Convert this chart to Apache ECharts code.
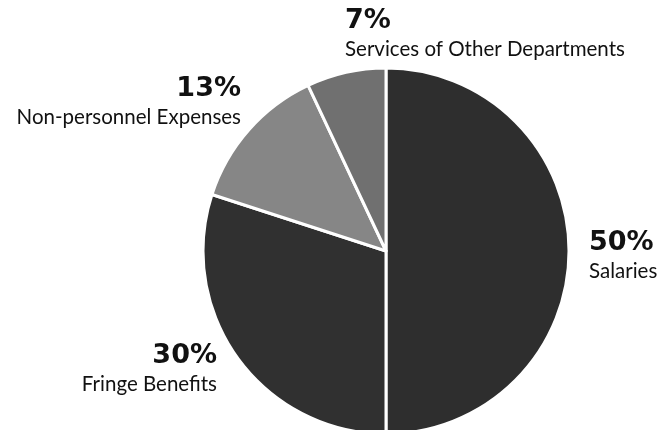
<!DOCTYPE html>
<html>
<head>
<meta charset="utf-8">
<script src="https://cdn.jsdelivr.net/npm/echarts@6/dist/echarts.min.js"></script>
<style>html,body{margin:0;padding:0;background:#fff}#c{width:660px;height:430px}</style>
</head>
<body>
<div id="c"></div>
<script>
const categories = ["Salaries", "Fringe Benefits", "Non-personnel Expenses", "Services of Other Departments"];
const shares = [50, 30, 13, 7];
const sliceColors = ["#2e2e2e", "#303030", "#868686", "#707070"];
// label anchor placement (layout only)
const labelPlace = [
  {x: 589, y: 228, align: "left"},
  {x: 217, y: 341, align: "right"},
  {x: 241, y: 74, align: "right"},
  {x: 345, y: 6, align: "left"}
];

const chart = echarts.init(document.getElementById('c'), null, {renderer: 'canvas'});
chart.setOption({
  animation: false,
  backgroundColor: '#fff',
  series: [{
    type: 'pie',
    center: [386, 251],
    radius: 183,
    startAngle: 90,
    clockwise: true,
    data: categories.map((c, i) => ({name: c, value: shares[i], itemStyle: {color: sliceColors[i]}})),
    itemStyle: {borderColor: '#fff', borderWidth: 3},
    labelLine: {show: false},
    label: {
      show: true,
      position: 'outside',
      overflow: 'none',
      formatter: p => '{p|' + shares[p.dataIndex] + '%}\n{n|' + p.name + '}',
      rich: {
        p: {fontFamily: 'DejaVu Sans', fontWeight: 'bold', fontSize: 27, color: '#111', lineHeight: 30},
        n: {fontFamily: 'Lato', fontSize: 20.5, color: '#111', lineHeight: 26}
      }
    },
    labelLayout: params => {
      const l = labelPlace[params.dataIndex];
      return {x: l.x, y: l.y, align: l.align, verticalAlign: 'top'};
    }
  }]
});
</script>
</body>
</html>
